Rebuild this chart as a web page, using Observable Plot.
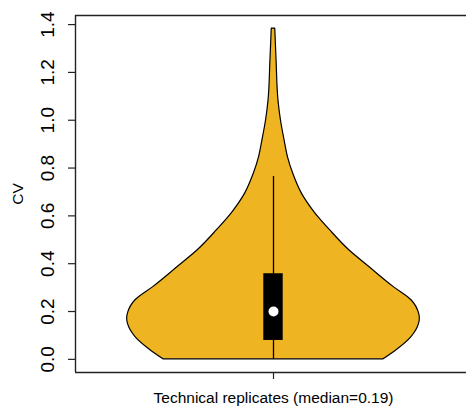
<!DOCTYPE html>
<html>
<head>
<meta charset="utf-8">
<script src="https://cdn.jsdelivr.net/npm/d3@7"></script>
<script src="https://cdn.jsdelivr.net/npm/@observablehq/plot@0.6"></script>
<style>
  html, body { margin: 0; padding: 0; background: #fff; }
  svg { display: block; }
</style>
</head>
<body>
<div id="chart"></div>
<script>
// Category and axis labels
const categories = ["Technical replicates (median=0.19)"];
const yTitle = "CV";
const yTicks = [0, 0.2, 0.4, 0.6, 0.8, 1.0, 1.2, 1.4];

// Violin outline: CV values and relative density (max = 1)
const cvGrid  = [0, 0.038, 0.093, 0.149, 0.17, 0.191, 0.247, 0.302, 0.386, 0.455, 0.539, 0.616, 0.692, 0.776, 0.845, 0.915, 0.999, 1.082, 1.249, 1.383];
const density = [0.752, 0.841, 0.943, 0.995, 1.0, 0.995, 0.943, 0.822, 0.655, 0.520, 0.388, 0.279, 0.195, 0.135, 0.099, 0.076, 0.051, 0.034, 0.021, 0.012];

// Box plot statistics
const boxLow = [0];
const boxQ1 = [0.079];
const boxMedian = [0.20];
const boxQ3 = [0.358];
const boxHigh = [0.765];

const center = 1;
const maxHalf = 0.739;
const boxHalf = 0.049;

const violin = cvGrid.map((cv, i) => ({cv, d: density[i]}));
const box = [{lo: boxLow[0], q1: boxQ1[0], med: boxMedian[0], q3: boxQ3[0], hi: boxHigh[0]}];

const font = "Liberation Sans, Arial, Helvetica, sans-serif";

const chart = Plot.plot({
  width: 466,
  height: 409,
  marginLeft: 75,
  marginRight: 0,
  marginTop: 15,
  marginBottom: 37,
  style: {fontFamily: font, background: "#fff", color: "#000"},
  x: {domain: [0, 2], range: [75, 471], axis: null},
  y: {domain: [-0.055, 1.438], axis: null},
  marks: [
    Plot.areaX(violin, {
      y: "cv",
      x1: d => center - d.d * maxHalf,
      x2: d => center + d.d * maxHalf,
      curve: "monotone-y",
      fill: "#EEB422",
      stroke: "#000",
      strokeWidth: 1.2
    }),
    Plot.ruleX(box, {x: center, y1: "lo", y2: "hi", stroke: "#000", strokeWidth: 1.3}),
    Plot.rect(box, {x1: center - boxHalf, x2: center + boxHalf, y1: "q1", y2: "q3", fill: "#000"}),
    Plot.dot(box, {x: center, y: "med", r: 5, fill: "#fff", stroke: null}),
    // frame (open on the right)
    Plot.ruleY([-0.055, 1.438], {stroke: "#222", strokeWidth: 1.4}),
    Plot.ruleX([0], {stroke: "#222", strokeWidth: 1.4}),
    // y axis ticks and labels
    Plot.axisY(yTicks, {ticks: yTicks, tickSize: 7, tickFormat: () => "", stroke: "#222", strokeWidth: 1.2}),
    Plot.text(yTicks, {
      x: 0, y: d => d, text: d => d3.format(".1f")(d),
      rotate: -90, dx: -28, textAnchor: "middle", lineAnchor: "middle",
      fontSize: 19, fill: "#000"
    }),
    Plot.text([yTitle], {
      frameAnchor: "left", text: d => d, rotate: -90, dx: -57,
      textAnchor: "middle", lineAnchor: "middle", fontSize: 15.5, fill: "#000"
    }),
    // x axis tick and category label
    Plot.axisX([center], {ticks: [center], tickSize: 7, tickPadding: 12, tickFormat: (d, i) => categories[i], fontSize: 15.5, stroke: "#222", strokeWidth: 1.2, fill: "#000"})
  ]
});

document.getElementById("chart").appendChild(chart);
</script>
</body>
</html>
